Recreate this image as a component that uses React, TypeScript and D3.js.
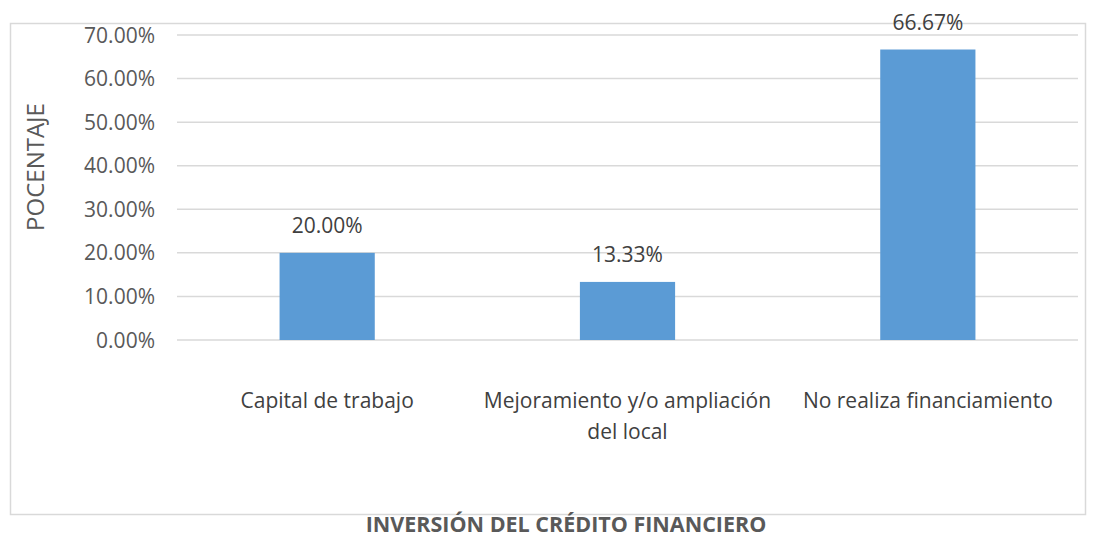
import React, { useEffect, useRef } from 'react'
import * as d3 from 'd3'

const categories = ['Capital de trabajo', 'Mejoramiento y/o ampliación del local', 'No realiza financiamiento']
const categoryLines = [['Capital de trabajo'], ['Mejoramiento y/o ampliación', 'del local'], ['No realiza financiamiento']]
const values = [20.0, 13.33, 66.67]
const yTicks = [0, 10, 20, 30, 40, 50, 60, 70]
const yTitle = 'POCENTAJE'
const xTitle = 'INVERSIÓN DEL CRÉDITO FINANCIERO'

const WIDTH = 1095
const HEIGHT = 538
const FONT = '"Open Sans", "Noto Sans", sans-serif'

const App = () => {
  const ref = useRef<SVGSVGElement>(null)

  useEffect(() => {
    const svg = d3.select(ref.current)
    svg.selectAll('*').remove()

    const left = 177
    const right = 1078
    const top = 35
    const bottom = 340

    const xScale = d3.scaleBand<string>().domain(categories).range([left, right]).padding(0)
    const yScale = d3.scaleLinear().domain([0, 70]).range([bottom, top])
    const barWidth = xScale.bandwidth() * 0.317

    // outer frame
    svg.append('rect')
      .attr('x', 10.5).attr('y', 23.5)
      .attr('width', 1075).attr('height', 491)
      .attr('fill', 'none').attr('stroke', '#d9d9d9').attr('stroke-width', 1.5)

    // gridlines
    svg.append('g')
      .selectAll('line')
      .data(yTicks)
      .enter()
      .append('line')
      .attr('x1', left).attr('x2', right)
      .attr('y1', d => yScale(d)).attr('y2', d => yScale(d))
      .attr('stroke', '#d9d9d9').attr('stroke-width', 1.5)

    // y tick labels
    svg.append('g')
      .selectAll('text')
      .data(yTicks)
      .enter()
      .append('text')
      .text(d => d.toFixed(2) + '%')
      .attr('x', 155)
      .attr('y', d => yScale(d))
      .attr('dy', '0.36em')
      .attr('text-anchor', 'end')
      .attr('font-family', FONT).attr('font-size', 21).attr('fill', '#595959')

    // bars
    svg.append('g')
      .selectAll('rect')
      .data(values)
      .enter()
      .append('rect')
      .attr('x', (d, i) => (xScale(categories[i]) as number) + xScale.bandwidth() / 2 - barWidth / 2)
      .attr('y', d => yScale(d))
      .attr('width', barWidth)
      .attr('height', d => bottom - yScale(d))
      .attr('fill', '#5b9bd5')

    // value labels
    svg.append('g')
      .selectAll('text')
      .data(values)
      .enter()
      .append('text')
      .text(d => d.toFixed(2) + '%')
      .attr('x', (d, i) => (xScale(categories[i]) as number) + xScale.bandwidth() / 2)
      .attr('y', d => yScale(d) - 20)
      .attr('text-anchor', 'middle')
      .attr('font-family', FONT).attr('font-size', 21).attr('fill', '#404040')

    // category labels
    const cat = svg.append('g')
      .selectAll('text')
      .data(categoryLines)
      .enter()
      .append('text')
      .attr('y', 408)
      .attr('text-anchor', 'middle')
      .attr('font-family', FONT).attr('font-size', 21).attr('fill', '#404040')
    cat.selectAll('tspan')
      .data((d, i) => d.map(line => ({ line, x: (xScale(categories[i]) as number) + xScale.bandwidth() / 2 })))
      .enter()
      .append('tspan')
      .text(d => d.line)
      .attr('x', d => d.x)
      .attr('dy', (d, j) => (j === 0 ? 0 : 31))

    // axis titles
    svg.append('text')
      .text(yTitle)
      .attr('transform', `translate(44, 167) rotate(-90)`)
      .attr('text-anchor', 'middle')
      .attr('font-family', FONT).attr('font-size', 24).attr('fill', '#595959')

    svg.append('text')
      .text(xTitle)
      .attr('x', 566)
      .attr('y', 532)
      .attr('text-anchor', 'middle')
      .attr('font-family', FONT).attr('font-size', 21.5).attr('font-weight', 'bold').attr('fill', '#595959')
  }, [])

  return (
    <div style={{ position: 'absolute', left: 0, top: 0 }}>
      <svg ref={ref} width={WIDTH} height={HEIGHT} style={{ display: 'block', background: '#fff' }}></svg>
    </div>
  )
}

export default App
